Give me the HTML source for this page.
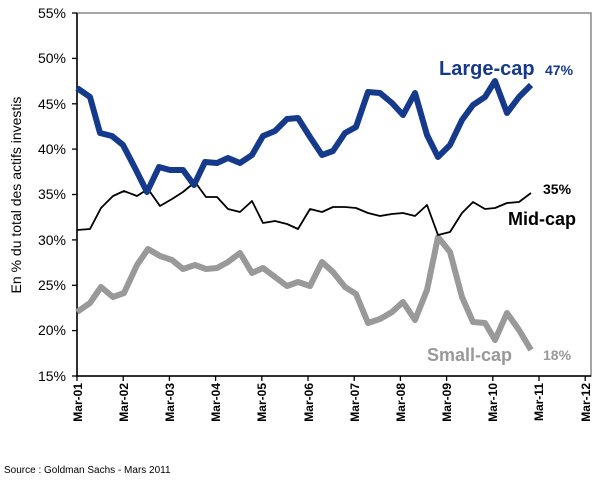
<!DOCTYPE html>
<html><head><meta charset="utf-8"><style>body{margin:0;background:#fff}svg{display:block}text{font-family:"Liberation Sans",Arial,sans-serif}</style></head><body>
<svg width="607" height="489" viewBox="0 0 607 489">
<rect x="77" y="13" width="514" height="363" fill="none" stroke="#888" stroke-width="1.5"/>
<line x1="77" y1="13" x2="77" y2="377" stroke="#000" stroke-width="1.5"/>
<line x1="77" y1="376" x2="591" y2="376" stroke="#000" stroke-width="1.5"/>
<g stroke="#000" stroke-width="1.3">
<line x1="72" y1="13" x2="77" y2="13"/><line x1="72" y1="58.4" x2="77" y2="58.4"/><line x1="72" y1="103.8" x2="77" y2="103.8"/><line x1="72" y1="149.1" x2="77" y2="149.1"/><line x1="72" y1="194.5" x2="77" y2="194.5"/><line x1="72" y1="239.9" x2="77" y2="239.9"/><line x1="72" y1="285.3" x2="77" y2="285.3"/><line x1="72" y1="330.6" x2="77" y2="330.6"/><line x1="72" y1="376" x2="77" y2="376"/>
<line x1="77" y1="376" x2="77" y2="381"/><line x1="123.2" y1="376" x2="123.2" y2="381"/><line x1="169.4" y1="376" x2="169.4" y2="381"/><line x1="215.6" y1="376" x2="215.6" y2="381"/><line x1="261.8" y1="376" x2="261.8" y2="381"/><line x1="308" y1="376" x2="308" y2="381"/><line x1="354.2" y1="376" x2="354.2" y2="381"/><line x1="400.4" y1="376" x2="400.4" y2="381"/><line x1="446.6" y1="376" x2="446.6" y2="381"/><line x1="492.8" y1="376" x2="492.8" y2="381"/><line x1="539" y1="376" x2="539" y2="381"/><line x1="585.2" y1="376" x2="585.2" y2="381"/>
</g>
<g font-size="14" text-anchor="end" fill="#000">
<text x="66" y="18">55%</text><text x="66" y="63">50%</text><text x="66" y="109">45%</text><text x="66" y="154">40%</text><text x="66" y="199">35%</text><text x="66" y="245">30%</text><text x="66" y="290">25%</text><text x="66" y="335">20%</text><text x="66" y="381">15%</text>
</g>
<g font-size="12" font-weight="bold" text-anchor="end" fill="#000">
<text transform="translate(82,383) rotate(-90)">Mar-01</text><text transform="translate(128,383) rotate(-90)">Mar-02</text><text transform="translate(174,383) rotate(-90)">Mar-03</text><text transform="translate(220,383) rotate(-90)">Mar-04</text><text transform="translate(266,383) rotate(-90)">Mar-05</text><text transform="translate(313,383) rotate(-90)">Mar-06</text><text transform="translate(359,383) rotate(-90)">Mar-07</text><text transform="translate(405,383) rotate(-90)">Mar-08</text><text transform="translate(451,383) rotate(-90)">Mar-09</text><text transform="translate(497,383) rotate(-90)">Mar-10</text><text transform="translate(543,383) rotate(-90)">Mar-11</text><text transform="translate(590,383) rotate(-90)">Mar-12</text>
</g>
<text transform="translate(21,195) rotate(-90)" font-size="14" text-anchor="middle">En % du total des actifs investis</text>
<text x="4" y="473" font-size="10">Source : Goldman Sachs - Mars 2011</text>
<polyline fill="none" stroke="#999" stroke-width="6" stroke-linejoin="round" points="77,312 90,303 101,287 113,297 124,293 137,265 148,249 160,256 172,260 183,269 195,265 206,269 217,268 228,262 240,253 252,273 263,268 275,277 287,286 298,282 310,286 322,262 333,272 345,287 356,294 368,323 380,319 392,312 403,302 415,320 427,290 438,237 450,252 462,297 473,322 485,323 495,340 507,313 519,330 531,350"/>
<polyline fill="none" stroke="#000" stroke-width="1.8" stroke-linejoin="round" points="77,230 90,229 101,208 113,196 124,191 137,196 148,189 160,206 172,199 183,192 195,182 206,197 217,197 228,209 240,212 252,201 263,223 275,221 287,224 298,229 310,209 322,212 333,207 345,207 356,208 368,213 380,216 392,214 403,213 415,216 427,205 438,235 450,232 462,213 473,202 485,209 495,208 507,203 519,202 531,193"/>
<polyline fill="none" stroke="#153a8c" stroke-width="6" stroke-linejoin="round" points="77,88 90,97 100,133 112,136 123,145 135,168 147,192 159,167 170,170 183,170 194,185 205,162 217,163 228,158 240,163 252,155 263,136 275,131 287,119 298,118 310,137 322,155 333,151 345,133 356,127 368,92 380,93 392,103 403,115 415,93 427,135 438,157 450,145 462,120 473,105 485,97 495,81 507,113 519,97 531,85"/>
<text x="439" y="75" font-size="20" font-weight="bold" fill="#153a8c">Large-cap</text>
<text x="545" y="75" font-size="14" font-weight="bold" fill="#153a8c">47%</text>
<text x="543" y="194" font-size="14" font-weight="bold" fill="#000">35%</text>
<text x="508" y="225" font-size="18" font-weight="bold" fill="#000">Mid-cap</text>
<text x="427" y="361" font-size="18" font-weight="bold" fill="#999">Small-cap</text>
<text x="543" y="360" font-size="14" font-weight="bold" fill="#999">18%</text>
</svg>
</body></html>
